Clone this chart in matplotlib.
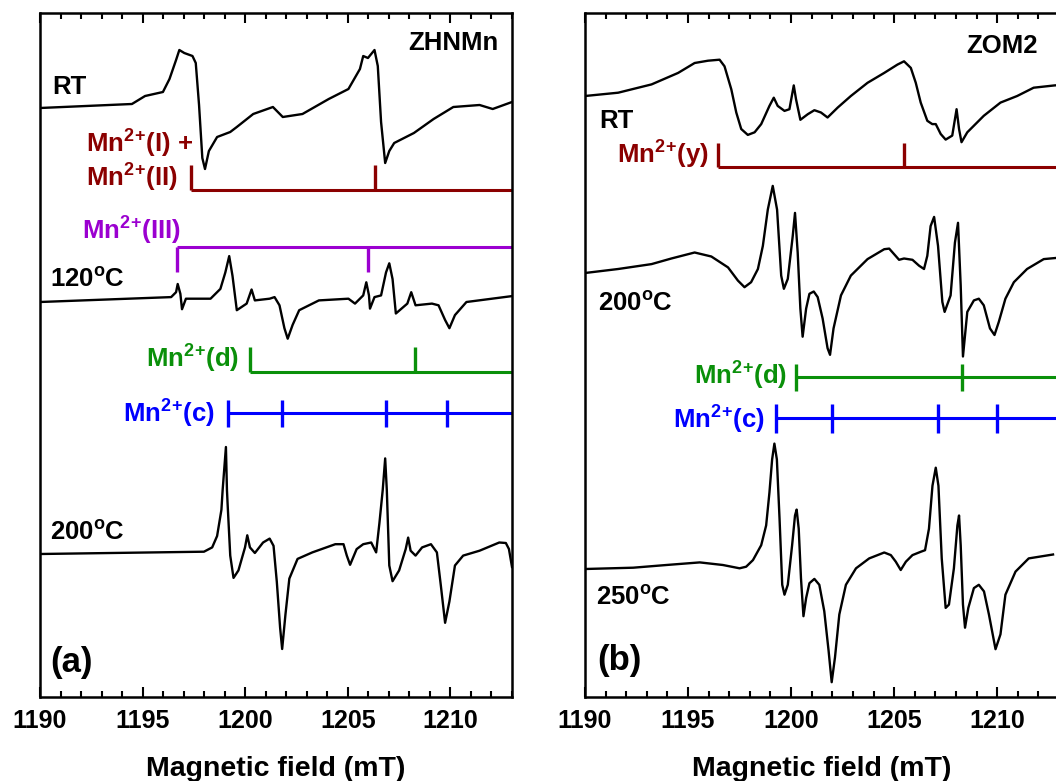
import matplotlib
matplotlib.use("Agg")
import matplotlib.pyplot as plt
from matplotlib.ticker import MultipleLocator

plt.rcParams['font.family'] = ['Liberation Sans', 'DejaVu Sans']
plt.rcParams['font.weight'] = 'bold'
plt.rcParams['axes.labelweight'] = 'bold'
plt.rcParams['mathtext.fontset'] = 'custom'
plt.rcParams['mathtext.rm'] = 'Liberation Sans:bold'
plt.rcParams['mathtext.it'] = 'Liberation Sans:bold'
plt.rcParams['mathtext.bf'] = 'Liberation Sans:bold'
plt.rcParams['mathtext.default'] = 'rm'

# ---------------- (a) ZHNMn ----------------
a_rt_field = [1190.00, 1194.48, 1195.12, 1195.99, 1196.31, 1196.63, 1196.79, 1197.03, 1197.43, 1197.59,
              1197.75, 1197.91, 1198.04, 1198.23, 1198.63, 1199.27, 1199.59, 1200.39, 1201.35, 1201.83,
              1202.79, 1204.07, 1205.03, 1205.59, 1205.75, 1205.98, 1206.30, 1206.46, 1206.62, 1206.82,
              1207.02, 1207.26, 1208.22, 1209.18, 1210.14, 1211.42, 1212.06, 1213.00]
a_rt_sig = [0, 4, 12, 16, 29, 48, 58, 55, 52, 45, 3, -50, -61, -43, -29, -24, -19, -6, 1, -9,
            -6, 9, 19, 39, 52, 50, 58, 42, -14, -55, -43, -35, -25, -11, 1, 3, -1, 6]

a_120_field = [1190.00, 1196.39, 1196.63, 1196.71, 1196.84, 1196.92, 1197.11, 1198.31, 1198.79, 1199.03,
               1199.22, 1199.38, 1199.59, 1200.07, 1200.31, 1200.47, 1201.19, 1201.43, 1201.67, 1201.91,
               1202.07, 1202.31, 1202.63, 1203.59, 1205.03, 1205.35, 1205.75, 1205.90, 1206.03, 1206.08,
               1206.30, 1206.62, 1206.86, 1207.02, 1207.18, 1207.34, 1207.90, 1208.09, 1208.30, 1209.10,
               1209.42, 1209.74, 1209.95, 1210.22, 1210.78, 1213.00]
a_120_sig = [0, 4.9, 9.8, 18.0, 8.2, -7.2, 3.3, 3.3, 13.1, 29.5,
             45.9, 26.2, -8.2, -1.6, 12.5, 1.6, 3.3, 4.9, -3.3, -26.2,
             -36.7, -22.9, -8.2, 1.6, 3.3, -1.6, 6.6, 19.7, 6.6, -6.6,
             4.9, 6.6, 29.5, 38.7, 22.9, -11.5, -1.6, 9.8, -3.3, -1.6,
             -3.3, -18.0, -26.2, -13.1, 0, 5.9]

a_200_field = [1190.00, 1197.99, 1198.39, 1198.63, 1198.84, 1198.90, 1199.06, 1199.11, 1199.14, 1199.27,
               1199.43, 1199.67, 1199.99, 1200.10, 1200.23, 1200.47, 1200.87, 1201.19, 1201.38, 1201.54,
               1201.70, 1201.80, 1201.96, 1202.15, 1202.55, 1203.27, 1204.39, 1204.79, 1204.95, 1205.11,
               1205.43, 1205.75, 1206.14, 1206.38, 1206.54, 1206.70, 1206.82, 1206.90, 1207.02, 1207.18,
               1207.50, 1207.82, 1207.94, 1208.06, 1208.30, 1208.62, 1209.05, 1209.34, 1209.53, 1209.74,
               1209.95, 1210.22, 1210.62, 1211.42, 1212.38, 1212.70, 1212.85, 1213.00]
a_200_sig = [0, 2.3, 6.6, 18.0, 44.2, 64, 107, 64, 50.8, -1.6,
             -23.9, -16.4, 6.6, 18.7, 6.6, 1.0, 11.5, 15.4, 8.2, -27.9,
             -73.7, -95, -60.6, -24.6, -4.9, 1.6, 9.8, 9.8, -1.6, -10.8,
             4.9, 9.8, 11.5, 1.6, 31.1, 63.9, 95.6, 63.9, -11.5, -27.2,
             -16.4, 4.9, 16.4, 3.3, -1.6, 6.6, 9.8, 1.6, -31.1, -68.8,
             -47.5, -11.5, -1.6, 3.3, 11.5, 11, 5, -13]

a_red = [1197.35, 1206.34]      # Mn2+(I) + Mn2+(II)
a_purple = [1196.67, 1205.98]   # Mn2+(III)
a_green = [1200.24, 1208.29]    # Mn2+(d)
a_blue = [1199.14, 1201.80, 1206.86, 1209.84]  # Mn2+(c)

# ---------------- (b) ZOM2 ----------------
b_rt_field = [1190.00, 1191.61, 1193.23, 1194.52, 1195.32, 1195.97, 1196.53, 1196.77, 1197.10, 1197.34,
              1197.58, 1197.90, 1198.23, 1198.55, 1198.95, 1199.16, 1199.35, 1199.68, 1199.92, 1200.13,
              1200.24, 1200.45, 1200.81, 1201.13, 1201.45, 1201.77, 1202.26, 1202.90, 1203.71, 1204.52,
              1205.16, 1205.48, 1205.81, 1206.05, 1206.29, 1206.61, 1206.85, 1207.02, 1207.26, 1207.50,
              1207.82, 1208.03, 1208.15, 1208.27, 1208.55, 1208.87, 1209.35, 1210.16, 1210.97, 1211.77,
              1212.79, 1213.10]
b_rt_sig = [0, 3.3, 11.6, 23.1, 33, 35.3, 36.3, 29.7, 6.6, -16.5,
            -33, -38.9, -36.3, -28.1, -9.9, -1.7, -9.9, -14.9, -13.2, 10.6,
            -3.3, -23.8, -18.2, -14.2, -16.5, -21.5, -11.6, 0, 13.2, 23.1,
            31.4, 34.7, 28.1, 13.2, -6.6, -24.8, -28.1, -28.1, -38, -43.6,
            -39.6, -13.2, -33, -46.2, -36.3, -29.7, -19.8, -6.6, 0, 8.3,
            10.6, 11]

b_200_field = [1190.00, 1191.61, 1193.23, 1194.19, 1195.32, 1196.13, 1196.94, 1197.42, 1197.74, 1198.06,
               1198.39, 1198.63, 1198.87, 1199.11, 1199.32, 1199.52, 1199.65, 1199.84, 1200.08, 1200.19,
               1200.32, 1200.45, 1200.56, 1200.73, 1200.89, 1201.10, 1201.29, 1201.53, 1201.77, 1201.89,
               1202.06, 1202.42, 1202.90, 1203.71, 1204.52, 1204.76, 1205.00, 1205.24, 1205.48, 1205.89,
               1206.21, 1206.45, 1206.61, 1206.77, 1206.94, 1207.13, 1207.34, 1207.45, 1207.74, 1207.95,
               1208.10, 1208.23, 1208.34, 1208.55, 1208.87, 1209.11, 1209.35, 1209.65, 1209.87, 1210.08,
               1210.40, 1210.81, 1211.45, 1212.26, 1213.10]
b_200_sig = [0, 4, 8.9, 14.5, 20.5, 16.5, 5.6, -7.6, -14.2, -9.2,
             4, 27.1, 63.4, 87.1, 63.4, -2.6, -15.8, -5.9, 37, 60.1,
             20.5, -35.6, -63.7, -35.6, -20.8, -18.5, -24.1, -45.5, -75.2, -81.8,
             -55.4, -22.4, -2.6, 13.9, 23.8, 24.4, 18.8, 13.2, 14.5, 13.2,
             7.3, 4, 17.2, 46.9, 56.1, 27.1, -29, -38.9, -22.4, 30.4,
             50.2, -12.5, -83.5, -38.9, -27.4, -25.7, -32.3, -55.4, -62, -48.8,
             -25.7, -9.2, 4, 13.9, 15.5]

b_250_field = [1190.00, 1192.34, 1193.95, 1195.57, 1196.69, 1197.50, 1197.82, 1198.15, 1198.55, 1198.79,
               1198.95, 1199.08, 1199.19, 1199.31, 1199.44, 1199.57, 1199.68, 1199.84, 1200.05, 1200.19,
               1200.27, 1200.37, 1200.48, 1200.60, 1200.73, 1200.89, 1201.13, 1201.37, 1201.61, 1201.82,
               1201.97, 1202.13, 1202.34, 1202.66, 1203.15, 1203.79, 1204.52, 1204.84, 1205.08, 1205.32,
               1205.57, 1205.89, 1206.29, 1206.50, 1206.69, 1206.86, 1207.02, 1207.15, 1207.31, 1207.50,
               1207.66, 1207.90, 1208.07, 1208.15, 1208.23, 1208.34, 1208.44, 1208.60, 1208.87, 1209.11,
               1209.36, 1209.60, 1209.92, 1210.16, 1210.40, 1210.89, 1211.53, 1212.71]
b_250_sig = [0, 1.3, 4, 6.6, 4, 0.7, 2.3, 8.9, 23.8, 43.6,
             76.6, 109.6, 125.4, 109.6, 50.2, -15.8, -25.7, -15.8, 23.8, 53.5,
             59.4, 40.3, -9.2, -47.2, -29, -14.2, -9.9, -15.8, -42.2, -81.8,
             -113.2, -88.4, -45.5, -15.8, 0.7, 10.6, 16.5, 13.9, 7.3, -1,
             7.3, 13.9, 17.2, 18.8, 40.3, 83.2, 101.3, 83.2, 10.6, -38.9,
             -35.6, 0.7, 43.6, 53.5, 23.8, -35.6, -58.7, -38.9, -19.1, -15.8,
             -22.4, -45.5, -80.2, -65.3, -25.7, -2.6, 10.6, 14.5]

b_red = [1196.46, 1205.49]      # Mn2+(y)
b_green = [1200.23, 1208.29]    # Mn2+(d)
b_blue = [1199.25, 1202.00, 1207.12, 1210.00]  # Mn2+(c)

c_red = '#8b0000'
c_purple = '#9b00d0'
c_green = '#0a900a'
c_blue = '#0000ff'

MN = r'Mn$^{2}$$^{+}$'

fig = plt.figure(figsize=(10.56, 7.81), dpi=100)
ax1 = fig.add_axes([40/1056, 84/781, 472/1056, 684/781])
ax2 = fig.add_axes([585/1056, 84/781, 474/1056, 684/781])


def setup(ax):
    ax.set_xlim(1190, 1213)
    ax.set_ylim(0, 684)
    ax.set_yticks([])
    ax.xaxis.set_major_locator(MultipleLocator(5))
    ax.xaxis.set_minor_locator(MultipleLocator(1))
    ax.tick_params(axis='x', which='both', direction='in', top=True, bottom=True,
                   width=1.5, labelsize=18, pad=9)
    ax.tick_params(axis='x', which='major', length=7)
    ax.tick_params(axis='x', which='minor', length=4)
    for s in ax.spines.values():
        s.set_linewidth(1.8)
    ax.set_xlabel('Magnetic field (mT)', fontsize=20.5, fontweight='bold', labelpad=16)


def sticks(ax, pos, y, up, color, both=False):
    ax.plot([pos[0], 1214], [y, y], color=color, lw=2.2, solid_capstyle='butt')
    for p in pos:
        if both:
            ax.plot([p, p], [y - up, y + up], color=color, lw=2.4, solid_capstyle='butt')
        else:
            ax.plot([p, p], [y, y + up], color=color, lw=2.4, solid_capstyle='butt')


setup(ax1)
setup(ax2)

lw = 1.7
ax1.plot(a_rt_field, [589 + v for v in a_rt_sig], color='k', lw=lw)
ax1.plot(a_120_field, [395 + v for v in a_120_sig], color='k', lw=lw)
ax1.plot(a_200_field, [143 + v for v in a_200_sig], color='k', lw=lw)

sticks(ax1, a_red, 507, 25, c_red)
sticks(ax1, a_purple, 450, -25, c_purple)
sticks(ax1, a_green, 325, 25, c_green)
sticks(ax1, a_blue, 284, 13.5, c_blue, both=True)

fs = 18.5
ax1.text(1190.59, 603, 'RT', fontsize=fs)
ax1.text(1212.34, 647, 'ZHNMn', fontsize=fs, ha='right')
ax1.text(1192.24, 544, MN + '(I) +', fontsize=fs, color=c_red)
ax1.text(1192.24, 510, MN + '(II)', fontsize=fs, color=c_red)
ax1.text(1192.05, 457, MN + '(III)', fontsize=fs, color=c_purple)
ax1.text(1190.49, 410, r'120$^{o}$C', fontsize=fs)
ax1.text(1199.71, 329, MN + '(d)', fontsize=fs, color=c_green, ha='right')
ax1.text(1198.54, 274, MN + '(c)', fontsize=fs, color=c_blue, ha='right')
ax1.text(1190.49, 157, r'200$^{o}$C', fontsize=fs)
ax1.text(1190.49, 25, '(a)', fontsize=25)

ax2.plot(b_rt_field, [601 + v for v in b_rt_sig], color='k', lw=lw)
ax2.plot(b_200_field, [424 + v for v in b_200_sig], color='k', lw=lw)
ax2.plot(b_250_field, [128 + v for v in b_250_sig], color='k', lw=lw)

sticks(ax2, b_red, 530, 24, c_red)
sticks(ax2, b_green, 320, 13.5, c_green, both=True)
sticks(ax2, b_blue, 279, 14.5, c_blue, both=True)

ax2.text(1211.99, 644, 'ZOM2', fontsize=fs, ha='right')
ax2.text(1190.68, 569, 'RT', fontsize=fs)
ax2.text(1196.02, 533, MN + '(y)', fontsize=fs, color=c_red, ha='right')
ax2.text(1190.63, 386, r'200$^{o}$C', fontsize=fs)
ax2.text(1199.81, 312, MN + '(d)', fontsize=fs, color=c_green, ha='right')
ax2.text(1198.74, 268, MN + '(c)', fontsize=fs, color=c_blue, ha='right')
ax2.text(1190.53, 92, r'250$^{o}$C', fontsize=fs)
ax2.text(1190.58, 27, '(b)', fontsize=25)

fig.savefig('out.png', dpi=100)
